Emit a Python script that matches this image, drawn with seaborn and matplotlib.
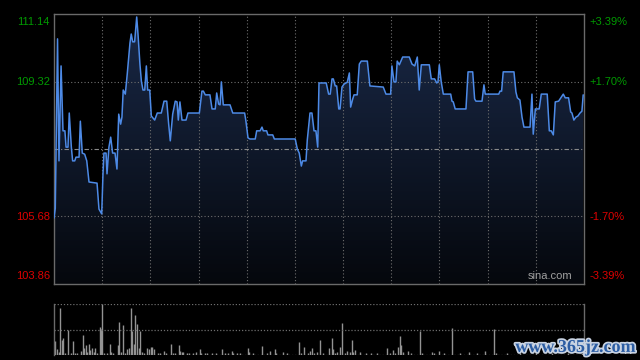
import numpy as np
import pandas as pd
import matplotlib
matplotlib.use("Agg")
import matplotlib.pyplot as plt
import matplotlib.patheffects as pe
import seaborn as sns

# 分时数据：开盘后分钟数 / 价格
minutes = [
    0, 0.8, 2.2, 3.1, 4.4, 5.6, 6.8, 7.5, 8.7, 9.5, 10.8, 11.6, 12.9, 13.7, 15.6,
    16.4, 17.6, 19.1, 20.4, 21.8, 26.8, 28.0, 29.7, 30.5, 31.1, 32.4, 33.0, 34.2,
    35.3, 36.5, 38.0, 39.2, 40.3, 41.5, 42.3, 43.1, 44.4, 45.6, 47.3, 48.1, 49.0,
    50.2, 51.5, 52.3, 53.5, 54.4, 55.4, 56.5, 57.5, 58.3, 59.6, 60.6, 62.7, 64.3,
    66.8, 68.5, 70.2, 71.4, 72.4, 73.9, 75.5, 76.6, 77.4, 78.4, 79.7, 82.2, 83.4,
    90.5, 92.1, 93.0, 94.2, 97.1, 98.4, 100.4, 101.3, 102.5, 103.4, 104.2, 105.4,
    109.6, 111.3, 118.7, 119.5, 120.8, 122.0, 125.3, 126.2, 128.3, 129.5, 130.3,
    132.4, 133.2, 136.2, 137.2, 150.2, 151.5, 152.7, 154.0, 154.8, 156.9, 157.7,
    159.4, 160.6, 161.9, 163.1, 164.2, 165.0, 169.5, 171.0, 172.0, 173.1, 173.9,
    175.1, 176.0, 177.3, 178.1, 179.3, 180.6, 182.6, 183.9, 184.7, 186.0, 186.8,
    188.8, 190.1, 191.3, 195.1, 196.7, 205.0, 206.7, 209.6, 210.4, 211.7, 212.9,
    213.7, 215.0, 217.1, 221.2, 222.9, 224.6, 226.2, 227.4, 228.7, 233.7, 234.9,
    237.0, 238.3, 239.1, 239.9, 241.1, 242.4, 247.0, 247.8, 248.6, 249.8, 256.5,
    257.8, 260.7, 261.9, 262.7, 266.5, 267.7, 268.5, 276.9, 277.7, 278.7, 279.7,
    286.4, 287.6, 288.5, 290.1, 291.4, 292.6, 296.4, 297.6, 298.4, 299.7, 302.1,
    303.4, 307.1, 308.4, 309.6, 310.9, 312.1, 314.2, 315.9, 317.1, 318.3, 320.4,
    321.7, 322.5, 323.7, 325.0, 326.2, 327.5, 328.7, 329.5,
]
prices = [
    105.64, 105.90, 110.47, 107.18, 109.74, 107.99, 107.99, 107.55, 107.55, 108.47,
    107.55, 107.18, 107.18, 107.28, 107.28, 108.25, 107.39, 107.36, 107.18, 106.61,
    106.58, 105.88, 105.75, 106.83, 107.39, 107.39, 106.83, 107.55, 107.82, 107.39,
    107.39, 106.96, 108.44, 108.17, 108.36, 109.09, 108.98, 109.52, 110.36, 110.60,
    110.39, 110.39, 111.06, 110.60, 109.79, 109.33, 109.09, 109.09, 109.74, 109.09,
    109.09, 108.39, 108.28, 108.47, 108.47, 108.79, 108.79, 108.17, 107.72, 108.44,
    108.79, 108.77, 108.28, 108.77, 108.28, 108.28, 108.47, 108.47, 109.06, 109.06,
    108.96, 108.96, 108.58, 108.58, 109.01, 108.71, 108.69, 109.31, 108.69, 108.69,
    108.47, 108.47, 108.25, 107.80, 107.77, 107.77, 107.99, 107.99, 108.09, 107.99,
    107.99, 107.88, 107.88, 107.77, 107.77, 107.50, 107.39, 107.04, 107.18, 107.18,
    107.74, 108.47, 108.47, 107.99, 107.99, 107.55, 109.28, 109.28, 108.98, 108.98,
    109.39, 109.39, 109.20, 109.20, 108.58, 108.58, 109.17, 109.25, 109.30, 109.55,
    108.63, 108.85, 108.96, 108.96, 109.79, 109.87, 109.87, 109.20, 109.17, 108.98,
    108.98, 109.74, 109.31, 109.31, 109.87, 109.77, 109.98, 109.98, 109.79, 109.74,
    109.98, 109.09, 109.77, 109.77, 109.39, 109.39, 109.28, 109.31, 109.77, 109.31,
    108.98, 108.98, 108.79, 108.77, 108.58, 108.58, 109.58, 109.58, 108.85, 108.79,
    108.79, 109.23, 108.98, 108.98, 109.06, 109.06, 109.58, 109.58, 109.04, 108.88,
    108.82, 108.36, 108.09, 108.09, 108.98, 107.90, 108.58, 108.58, 108.98, 108.98,
    107.99, 107.99, 107.88, 108.77, 108.79, 108.90, 108.98, 108.88, 108.88, 108.50,
    108.47, 108.28, 108.36, 108.39, 108.47, 108.52, 108.96,
]

# 成交量（分钟 / 手）
vol_minutes = [
    0.6, 2.1, 3.3, 3.9, 5.2, 5.8, 7.0, 8.5, 10.4, 12.0, 13.3, 14.5, 17.0, 18.3,
    18.9, 20.1, 20.7, 22.0, 22.6, 23.8, 25.1, 25.7, 27.0, 28.8, 29.5, 30.1, 31.3,
    33.2, 35.1, 35.7, 36.9, 40.0, 40.7, 41.9, 43.1, 44.4, 45.6, 46.9, 48.1, 48.7,
    50.0, 50.6, 51.9, 53.1, 53.7, 55.0, 56.2, 58.1, 59.3, 60.6, 61.2, 62.4, 64.9,
    66.2, 68.7, 69.9, 73.0, 74.3, 75.5, 78.0, 78.6, 79.9, 80.5, 83.0, 84.2, 86.7,
    88.6, 91.1, 91.7, 94.2, 95.4, 98.6, 101.0, 104.8, 106.7, 108.5, 111.0, 111.6,
    114.1, 116.0, 121.0, 121.6, 124.1, 129.7, 132.8, 134.7, 137.8, 138.4, 142.8,
    145.3, 152.7, 154.0, 155.8, 158.3, 159.6, 160.8, 162.1, 163.9, 165.6, 167.3,
    171.0, 172.9, 173.5, 174.8, 176.0, 177.9, 179.5, 181.0, 182.6, 184.5, 185.7,
    186.4, 187.6, 190.7, 194.4, 197.5, 201.3, 207.5, 209.4, 211.2, 212.5, 214.4,
    215.6, 216.2, 217.5, 220.6, 222.5, 228.1, 229.3, 235.5, 236.8, 239.9, 243.0,
    248.0, 253.0, 258.6, 263.5, 268.5, 274.1, 275.4, 281.9, 290.0, 300.0, 310.0,
    320.0, 329.0,
]
volumes = [
    133, 57, 33, 460, 150, 167, 23, 250, 23, 140, 17, 17, 40, 200, 73, 100, 33,
    110, 50, 73, 33, 67, 17, 277, 257, 500, 17, 17, 110, 33, 17, 100, 323, 33, 290,
    17, 57, 67, 460, 233, 110, 390, 300, 67, 240, 33, 17, 67, 60, 77, 83, 60, 17,
    17, 40, 17, 110, 17, 17, 100, 40, 27, 33, 17, 17, 17, 30, 60, 23, 17, 17, 23,
    17, 60, 17, 17, 40, 23, 17, 17, 67, 33, 17, 90, 17, 43, 57, 17, 30, 17, 130,
    17, 77, 23, 40, 67, 17, 33, 150, 23, 67, 167, 60, 17, 33, 83, 310, 23, 40, 33,
    147, 33, 50, 27, 17, 17, 17, 67, 23, 50, 17, 77, 183, 100, 33, 40, 17, 237,
    17, 30, 17, 37, 17, 263, 17, 30, 17, 40, 257, 23, 17, 20, 20, 20, 20, 20,
]

prev_close = 107.50
y_top, y_bot = 111.14, 103.86
left_ticks = [111.14, 109.32, 105.68, 103.86]
right_ticks = ["+3.39%", "+1.70%", "-1.70%", "-3.39%"]
tick_colors = ["#009a00", "#009a00", "#dd0000", "#dd0000"]

sns.set_style("dark")
plt.rcParams["font.family"] = ["Liberation Sans", "DejaVu Sans"]

fig = plt.figure(figsize=(6.4, 3.6), dpi=100, facecolor="black")
ax = fig.add_axes([54 / 640, 76 / 360, 530 / 640, 270 / 360])
axv = fig.add_axes([54 / 640, 5 / 360, 530 / 640, 51 / 360])

frame_col = "#6a6a6a"
grid_col = "#6e6e6e"

# 价格面板
ax.set_facecolor("black")
ax.set_xlim(0, 330)
ax.set_ylim(y_bot, y_top)

# 渐变填充
xs = np.array(minutes)
ys = np.array(prices)
poly = ax.fill_between(xs, ys, y_bot, color="none")
grad = np.linspace(0, 1, 256).reshape(-1, 1)
top_c = np.array([0.10, 0.16, 0.28])
bot_c = np.array([0.02, 0.03, 0.05])
img = (top_c * (1 - grad) + bot_c * grad)[:, None, :].repeat(2, axis=1)
im = ax.imshow(img, extent=[0, 330, y_bot, y_top], aspect="auto",
               origin="upper", zorder=1)
path = poly.get_paths()[0]
im.set_clip_path(path, transform=ax.transData)

for m in range(30, 330, 30):
    ax.axvline(m, color=grid_col, lw=0.8, ls=(0, (1, 2)), zorder=2)
for v in [109.32, 105.68]:
    ax.axhline(v, color=grid_col, lw=0.8, ls=(0, (1, 2)), zorder=2)
ax.axhline(prev_close, color="#8a8a8a", lw=0.8, ls=(0, (4, 2, 1, 2)), zorder=2)

df = pd.DataFrame({"minute": minutes, "price": prices})
sns.lineplot(data=df, x="minute", y="price", ax=ax, color="#4d8ae6",
             linewidth=1.1, zorder=3, estimator=None, sort=False)

ax.set_xticks([])
ax.set_yticks([])
ax.set_xlabel("")
ax.set_ylabel("")
ax.grid(False)
for s in ax.spines.values():
    s.set_visible(True)
    s.set_color(frame_col)
    s.set_linewidth(1)

label_y = [111.14 - 0.22, 109.32, 105.68, 103.86 + 0.22]
for yv, txt, rt, c in zip(label_y, left_ticks, right_ticks, tick_colors):
    ax.text(-0.008, yv, f"{txt:.2f}", transform=ax.get_yaxis_transform(),
            ha="right", va="center", color=c, fontsize=8)
    ax.text(1.011, yv, rt, transform=ax.get_yaxis_transform(),
            ha="left", va="center", color=c, fontsize=8)

ax.text(0.978, 103.86 + 0.22, "sina.com", transform=ax.get_yaxis_transform(),
        ha="right", va="center", color="#a0a0a0", fontsize=8)

# 成交量面板
axv.set_facecolor("black")
axv.set_xlim(0, 330)
axv.set_ylim(0, 500)
axv.vlines(vol_minutes, 0, volumes, color="#939393", lw=1)
for v in [500, 250, 0]:
    axv.axhline(v, color=grid_col, lw=0.9, ls=(0, (1, 1.5)))
axv.set_xticks([])
axv.set_yticks([])
axv.grid(False)
for side in ["top", "bottom"]:
    axv.spines[side].set_visible(False)
for side in ["left", "right"]:
    axv.spines[side].set_color(frame_col)
    axv.spines[side].set_linewidth(1)

fig.text(0.992, 0.035, "www.365jz.com", ha="right", va="center",
         color="#2c5da3", fontsize=13, fontweight="bold",
         family=["Liberation Serif", "DejaVu Serif"],
         path_effects=[pe.withStroke(linewidth=2.5, foreground="#c9d3e2")])

fig.savefig("out.png", dpi=100, facecolor="black")
